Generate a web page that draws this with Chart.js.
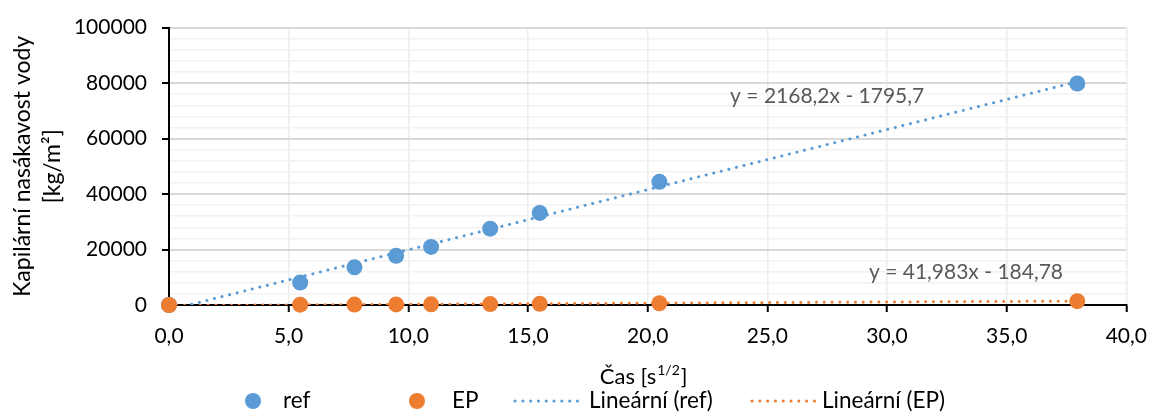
<!DOCTYPE html>
<html>
<head>
<meta charset="utf-8">
<script src="https://cdn.jsdelivr.net/npm/chart.js@4.4.0/dist/chart.umd.min.js"></script>
<style>
  html, body { margin: 0; padding: 0; background: #fff; }
  #wrap { width: 1159px; height: 412px; }
</style>
</head>
<body>
<div id="wrap"><canvas id="c"></canvas></div>
<script>
// sqrt of time [s^1/2] and water absorption [kg/m2]
const timeSqrt = [0, 5.48, 7.75, 9.49, 10.95, 13.42, 15.49, 20.49, 37.95];
const refValues = [0, 8070, 13570, 17710, 20930, 27500, 33200, 44390, 79860];
const epValues = [0, 120, 160, 200, 250, 330, 420, 640, 1380];

// trendline end points (x from first to last measurement)
const trendX = [0, 37.95];
const refTrendY = [-1795.7, 80490];
const epTrendY = [-184.8, 1408.4];

const equations = ['y = 2168,2x - 1795,7', 'y = 41,983x - 184,78'];
const equationAt = [[27.5, 75100], [33.3, 11900]];

const legendLabels = ['ref', 'EP', 'Lineární (ref)', 'Lineární (EP)'];

const BLUE = '#5B9BD5';
const ORANGE = '#ED7D31';
const FONT = 'Lato, "Open Sans", sans-serif';
const DOTS = [0.1, 7.7];

function pts(xs, ys) {
    return xs.map((v, i) => ({x: v, y: ys[i]}));
}

// equations, x axis title with superscript and the legend
const extras = {
    id: 'extras',
    afterDraw(chart) {
        const {ctx, chartArea} = chart;
        const x = chart.scales.x, y = chart.scales.y;
        ctx.save();

        ctx.font = '21px ' + FONT;
        ctx.fillStyle = '#595959';
        ctx.textAlign = 'center';
        ctx.textBaseline = 'middle';
        equations.forEach((t, i) => {
            ctx.fillText(t, x.getPixelForValue(equationAt[i][0]), y.getPixelForValue(equationAt[i][1]));
        });

        // "Čas [s^1/2]"
        ctx.fillStyle = '#000';
        ctx.textAlign = 'left';
        ctx.textBaseline = 'alphabetic';
        const big = '22px ' + FONT, small = '14px ' + FONT;
        ctx.font = big;
        const w1 = ctx.measureText('Čas [s').width;
        const w3 = ctx.measureText(']').width;
        ctx.font = small;
        const w2 = ctx.measureText('1/2').width;
        const cx = (chartArea.left + chartArea.right) / 2 - 5;
        let tx = cx - (w1 + w2 + w3) / 2;
        const base = 384;
        ctx.font = big;
        ctx.fillText('Čas [s', tx, base);
        ctx.font = small;
        ctx.fillText('1/2', tx + w1 + 1, base - 9);
        ctx.font = big;
        ctx.fillText(']', tx + w1 + w2 + 2, base);

        // legend
        const ly = 401;
        const markerX = [245, 409, 515, 752];
        const textX = [283, 452, 589, 822];
        const ds = chart.data.datasets;
        ctx.textBaseline = 'middle';
        ctx.font = '22.5px ' + FONT;
        legendLabels.forEach((lab, i) => {
            const d = ds[i];
            if (d.showLine) {
                ctx.save();
                ctx.strokeStyle = d.borderColor;
                ctx.lineWidth = 3;
                ctx.lineCap = 'round';
                ctx.setLineDash(DOTS);
                ctx.beginPath();
                ctx.moveTo(markerX[i], ly);
                ctx.lineTo(markerX[i] + 66, ly);
                ctx.stroke();
                ctx.restore();
            } else {
                ctx.fillStyle = d.backgroundColor;
                ctx.beginPath();
                ctx.arc(markerX[i] + 8, ly, 8, 0, Math.PI * 2);
                ctx.fill();
            }
            ctx.fillStyle = '#000';
            ctx.fillText(lab, textX[i], ly);
        });
        ctx.restore();
    }
};

const ctx = document.getElementById('c').getContext('2d');
new Chart(ctx, {
    type: 'scatter',
    data: {
        datasets: [
            {
                label: legendLabels[0],
                data: pts(timeSqrt, refValues),
                backgroundColor: BLUE,
                borderColor: BLUE,
                pointRadius: 8,
                pointBorderWidth: 0,
                clip: false,
                order: 2
            },
            {
                label: legendLabels[1],
                data: pts(timeSqrt, epValues),
                backgroundColor: ORANGE,
                borderColor: ORANGE,
                pointRadius: 8,
                pointBorderWidth: 0,
                clip: false,
                order: 1
            },
            {
                label: legendLabels[2],
                data: pts(trendX, refTrendY),
                showLine: true,
                borderColor: BLUE,
                borderWidth: 3,
                borderDash: DOTS,
                borderCapStyle: 'round',
                pointRadius: 0,
                order: 3
            },
            {
                label: legendLabels[3],
                data: pts(trendX, epTrendY),
                showLine: true,
                borderColor: ORANGE,
                borderWidth: 3,
                borderDash: DOTS,
                borderCapStyle: 'round',
                pointRadius: 0,
                order: 3
            }
        ]
    },
    options: {
        responsive: true,
        maintainAspectRatio: false,
        animation: false,
        layout: {padding: {top: 25, right: 24, bottom: 0, left: 0}},
        plugins: {
            legend: {display: false},
            tooltip: {enabled: false}
        },
        scales: {
            x: {
                type: 'linear',
                min: 0,
                max: 40,
                ticks: {
                    stepSize: 5,
                    color: '#000',
                    font: {family: FONT, size: 21},
                    padding: 12,
                    maxRotation: 0,
                    callback: v => v.toFixed(1).replace('.', ',')
                },
                grid: {
                    color: '#ececec',
                    lineWidth: 1.5,
                    tickColor: '#000',
                    tickLength: 7,
                    tickWidth: 2
                },
                border: {color: '#000', width: 2},
                afterFit: s => { s.height = 107; }
            },
            y: {
                min: 0,
                max: 100000,
                ticks: {
                    stepSize: 4000,
                    maxTicksLimit: 40,
                    autoSkip: false,
                    color: '#000',
                    font: {family: FONT, size: 21},
                    padding: 15,
                    callback: v => (v % 20000 === 0 ? String(v) : '')
                },
                grid: {
                    color: c => (c.tick && c.tick.value % 20000 === 0 ? '#d9d9d9' : '#f2f2f2'),
                    lineWidth: c => (c.tick && c.tick.value % 20000 === 0 ? 2 : 1.5),
                    tickColor: c => (c.tick && c.tick.value % 20000 === 0 ? '#000' : 'rgba(0,0,0,0)'),
                    tickLength: 7,
                    tickWidth: 2
                },
                border: {color: '#000', width: 2},
                title: {
                    display: true,
                    text: ['Kapilární nasákavost vody', '[kg/m²]'],
                    color: '#000',
                    font: {family: FONT, size: 23, lineHeight: 1.3},
                    padding: {top: 8, bottom: 0}
                },
                afterFit: s => { s.width = 169; }
            }
        }
    },
    plugins: [extras]
});
</script>
</body>
</html>
